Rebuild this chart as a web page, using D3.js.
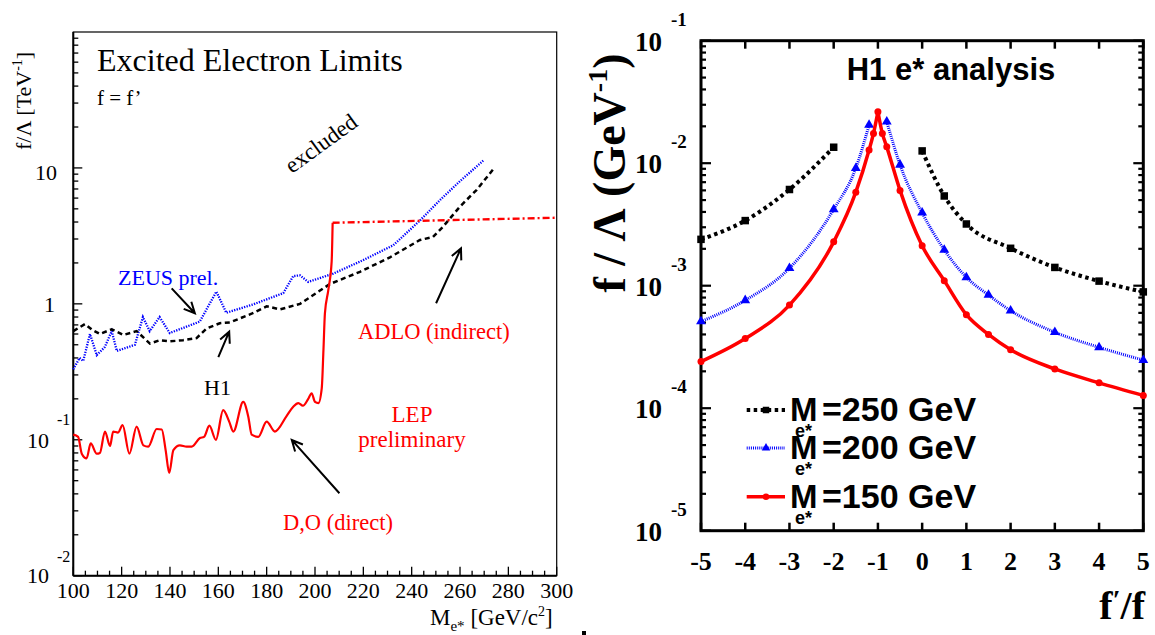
<!DOCTYPE html>
<html><head><meta charset="utf-8">
<script src="https://cdn.jsdelivr.net/npm/d3@7"></script>
<style>body{margin:0;background:#fff;overflow:hidden}</style>
</head><body>
<svg id="c" width="1155" height="635"></svg>
<script>
// ---------------- Left panel data (M_e* in GeV, f/Lambda in TeV^-1) ----------------
const h1Mass  = [100, 104.8, 108, 111, 115.9, 120.7, 126.2, 131.7, 135.7, 140, 145.4, 151, 155.2, 160.6, 164.8, 174, 180, 185.5, 193.8, 206.2, 218.6, 231, 243.4, 248.8, 253, 260, 266.9, 273.8];
const h1Limit = [0.63, 0.71, 0.64, 0.60, 0.65, 0.59, 0.63, 0.51, 0.54, 0.53, 0.54, 0.56, 0.66, 0.72, 0.73, 0.85, 0.96, 0.91, 1.0, 1.4, 1.72, 2.2, 2.95, 3.1, 3.7, 5.2, 6.9, 9.8];

const zeusMass  = [100, 102.6, 104.1, 106.9, 109.7, 113, 115.9, 118, 125.5, 128.8, 131.6, 135.7, 139.9, 152.3, 159.2, 163.3, 174.4, 186.9, 191, 193.8, 197.2, 207.6, 220, 232.4, 243.4, 251.7, 260, 269.6];
const zeusLimit = [0.33, 0.40, 0.38, 0.60, 0.42, 0.48, 0.63, 0.45, 0.50, 0.80, 0.63, 0.80, 0.61, 0.74, 1.23, 0.86, 0.99, 1.2, 1.6, 1.62, 1.45, 1.67, 2.1, 2.7, 4.1, 5.8, 8.0, 11.3];

const doMass  = [100, 102, 103.5, 105.5, 107.2, 109.7, 111, 113.1, 115.2, 116.5, 118.5, 120.4, 123.2, 126.2, 129, 131, 134.5, 136.6, 138.2, 139.7, 141.4, 144.1, 146.9, 149, 152.4, 154.1, 156.3, 159, 162, 164.5, 166.2, 170.3, 172.4, 173.8, 176.5, 180, 183.4, 188.3, 191, 193.1, 195, 197.2, 198.6, 200, 201.4, 202.8, 203.5, 204.1, 205.5, 206.9, 207.3];
const doLimit = [0.109, 0.105, 0.079, 0.073, 0.094, 0.079, 0.080, 0.115, 0.090, 0.115, 0.113, 0.128, 0.079, 0.125, 0.091, 0.089, 0.120, 0.119, 0.084, 0.057, 0.084, 0.091, 0.089, 0.089, 0.103, 0.105, 0.127, 0.100, 0.165, 0.136, 0.115, 0.19, 0.148, 0.109, 0.105, 0.136, 0.115, 0.150, 0.175, 0.186, 0.178, 0.20, 0.22, 0.19, 0.186, 0.24, 0.46, 0.85, 1.26, 2.06, 3.95];

const adloMass  = [207.3, 300];
const adloLimit = [3.95, 4.3];

const leftXTicks = [100, 120, 140, 160, 180, 200, 220, 240, 260, 280, 300];
const leftYDecades = [0.01, 0.1, 1, 10];

// ---------------- Right panel data (f'/f, f/Lambda in GeV^-1) ----------------
const ratio150 = [-5, -4, -3, -2, -1.5, -1.2, -1.1, -1, -0.9, -0.8, -0.5, 0, 0.5, 1, 1.5, 2, 3, 4, 5];
const limit150 = [2.4e-4, 3.7e-4, 6.95e-4, 2.28e-3, 5.8e-3, 1.28e-2, 1.75e-2, 2.63e-2, 1.75e-2, 1.36e-2, 6.0e-3, 2.12e-3, 1.1e-3, 5.8e-4, 4.0e-4, 3.0e-4, 2.09e-4, 1.61e-4, 1.27e-4];

const ratio200 = [-5, -4, -3, -2, -1.5, -1.2, null, -0.8, -0.5, 0, 0.5, 1, 1.5, 2, 3, 4, 5];
const limit200 = [5.1e-4, 7.6e-4, 1.39e-3, 4.2e-3, 9.1e-3, 2.05e-2, null, 2.18e-2, 9.7e-3, 3.94e-3, 1.96e-3, 1.17e-3, 8.4e-4, 6.25e-4, 4.17e-4, 3.14e-4, 2.47e-4];

const ratio250 = [-5, -4, -3, -2, null, 0, 0.5, 1, 2, 3, 4, 5];
const limit250 = [2.39e-3, 3.4e-3, 6.1e-3, 1.35e-2, null, 1.26e-2, 5.4e-3, 3.19e-3, 2.02e-3, 1.41e-3, 1.09e-3, 8.9e-4];

const rightXTicks = [-5, -4, -3, -2, -1, 0, 1, 2, 3, 4, 5];
const rightYDecades = [1e-5, 1e-4, 1e-3, 1e-2, 1e-1];
const legendMasses = ["250", "200", "150"];

// ---------------- drawing ----------------
const svg = d3.select("#c");
const serif = "'Liberation Serif','Times New Roman',serif";
const sans = "'Liberation Sans',Arial,Helvetica,sans-serif";
const RED = "#ff0000", BLUE = "#0000ff";

function txt(g, x, y, s, o = {}) {
  const t = g.append("text").attr("x", x).attr("y", y).text(s)
    .attr("font-family", o.ff || serif).attr("font-size", o.fs || 22)
    .attr("fill", o.fill || "#000").attr("text-anchor", o.anchor || "start");
  if (o.bold) t.attr("font-weight", "bold");
  if (o.rot !== undefined) t.attr("transform", `rotate(${o.rot},${x},${y})`);
  return t;
}

// ===== LEFT PANEL =====
const L = svg.append("g");
const xL = d3.scaleLinear().domain([100, 300]).range([73.3, 556.7]);
const yL = d3.scaleLog().domain([0.01, 100]).range([575.7, 32]);

// frame
L.append("rect").attr("x", xL(100)).attr("y", yL(100)).attr("width", xL(300) - xL(100)).attr("height", yL(0.01) - yL(100))
  .attr("fill", "none").attr("stroke", "#000").attr("stroke-width", 1.2);
L.append("line").attr("x1", xL(100)).attr("x2", xL(100)).attr("y1", yL(100)).attr("y2", yL(0.01)).attr("stroke", "#000").attr("stroke-width", 2);
L.append("line").attr("x1", xL(100)).attr("x2", xL(300)).attr("y1", yL(0.01)).attr("y2", yL(0.01)).attr("stroke", "#000").attr("stroke-width", 2);

// x ticks
d3.range(100, 301, 5).forEach(m => {
  const len = m % 20 === 0 ? 9 : 5;
  L.append("line").attr("x1", xL(m)).attr("x2", xL(m)).attr("y1", yL(0.01)).attr("y2", yL(0.01) - len).attr("stroke", "#000").attr("stroke-width", 1.3);
});
leftXTicks.forEach(m => txt(L, xL(m), 598, String(m), { anchor: "middle", fs: 22 }));

// y ticks
leftYDecades.forEach(d => {
  for (let k = 1; k <= 9; k++) {
    const v = d * k, len = k === 1 ? 9 : 5;
    L.append("line").attr("x1", xL(100)).attr("x2", xL(100) + len).attr("y1", yL(v)).attr("y2", yL(v)).attr("stroke", "#000").attr("stroke-width", 1.3);
  }
});
// y tick labels
txt(L, 57, yL(10) + 12, "10", { anchor: "end", fs: 22 });
txt(L, 55, yL(1) + 8, "1", { anchor: "end", fs: 22 });
txt(L, 49, yL(0.1) + 8, "10", { anchor: "end", fs: 22 });
txt(L, 57, yL(0.1) - 15, "-1", { fs: 16 });
txt(L, 49, yL(0.01) + 7, "10", { anchor: "end", fs: 22 });
txt(L, 57, yL(0.01) - 14, "-2", { fs: 16 });

// axis titles
{
  const t = L.append("text").attr("transform", "translate(31,150) rotate(-90)")
    .attr("font-family", serif).attr("font-size", 22);
  t.append("tspan").text("f/Λ [TeV");
  t.append("tspan").text("-1").attr("font-size", 14).attr("dy", -9);
  t.append("tspan").text("]").attr("dy", 9);
}
{
  const t = L.append("text").attr("x", 430).attr("y", 625).attr("font-family", serif).attr("font-size", 23);
  t.append("tspan").text("M");
  t.append("tspan").text("e*").attr("font-size", 15).attr("dy", 6);
  t.append("tspan").text(" [GeV/c").attr("dy", -6);
  t.append("tspan").text("2").attr("font-size", 14).attr("dy", -9);
  t.append("tspan").text("]").attr("dy", 9);
}
L.append("rect").attr("x", 582).attr("y", 631).attr("width", 4).attr("height", 4).attr("fill", "#000");

// curves
function drawL(xs, ys, color, width, dash, curve) {
  const pts = xs.map((x, i) => [xL(x), yL(ys[i])]);
  L.append("path").attr("d", d3.line().curve(curve || d3.curveLinear)(pts))
    .attr("fill", "none").attr("stroke", color).attr("stroke-width", width)
    .attr("stroke-dasharray", dash || null);
}
drawL(zeusMass, zeusLimit, BLUE, 2.3, "1.3,1.3");
drawL(h1Mass, h1Limit, "#000", 2.5, "5,3.5");
drawL(doMass, doLimit, RED, 2.2, null, d3.curveMonotoneX);
drawL(adloMass, adloLimit, RED, 2.4, "7,3,2,3");

// text labels
txt(L, 97, 71, "Excited Electron Limits", { fs: 32 });
txt(L, 97, 105, "f = f’", { fs: 21 });
txt(L, 292, 174, "excluded", { fs: 23, rot: -36 });
txt(L, 118, 285, "ZEUS prel.", { fs: 22, fill: BLUE });
txt(L, 204, 395, "H1", { fs: 22 });
txt(L, 358, 339, "ADLO (indirect)", { fs: 22.5, fill: RED });
txt(L, 412, 422, "LEP", { fs: 23, fill: RED, anchor: "middle" });
txt(L, 412, 447, "preliminary", { fs: 23, fill: RED, anchor: "middle" });
txt(L, 283, 530, "D,O (direct)", { fs: 22.5, fill: RED });

// annotation arrows (in data coordinates)
const arrows = [
  [[140.7, 1.30], [150.3, 0.853]],
  [[160.0, 0.405], [164.5, 0.624]],
  [[250.1, 1.01], [260.4, 2.56]],
  [[210.1, 0.0404], [190.4, 0.0997]]
];
arrows.forEach(([a, b]) => {
  const x1 = xL(a[0]), y1 = yL(a[1]), x2 = xL(b[0]), y2 = yL(b[1]);
  const ang = Math.atan2(y2 - y1, x2 - x1), h = 12, sp = 0.45;
  const p = d3.path();
  p.moveTo(x1, y1); p.lineTo(x2, y2);
  p.moveTo(x2 - h * Math.cos(ang - sp), y2 - h * Math.sin(ang - sp));
  p.lineTo(x2, y2);
  p.lineTo(x2 - h * Math.cos(ang + sp), y2 - h * Math.sin(ang + sp));
  L.append("path").attr("d", p.toString()).attr("fill", "none").attr("stroke", "#000").attr("stroke-width", 2);
});

// ===== RIGHT PANEL =====
const R = svg.append("g");
const xR = d3.scaleLinear().domain([-5, 5]).range([701, 1143.3]);
const yR = d3.scaleLog().domain([1e-5, 1e-1]).range([530.7, 40.7]);

// ticks
rightXTicks.forEach(v => {
  R.append("line").attr("x1", xR(v)).attr("x2", xR(v)).attr("y1", yR(1e-5)).attr("y2", yR(1e-5) - 8).attr("stroke", "#000").attr("stroke-width", 2.5);
  R.append("line").attr("x1", xR(v)).attr("x2", xR(v)).attr("y1", yR(1e-1)).attr("y2", yR(1e-1) + 8).attr("stroke", "#000").attr("stroke-width", 2.5);
  txt(R, xR(v), 570, String(v), { anchor: "middle", fs: 26, bold: true });
});
rightYDecades.forEach((d, i) => {
  const ks = i === rightYDecades.length - 1 ? [1] : d3.range(1, 10);
  ks.forEach(k => {
    const v = d * k, len = k === 1 ? 10 : 5;
    R.append("line").attr("x1", xR(-5)).attr("x2", xR(-5) + len).attr("y1", yR(v)).attr("y2", yR(v)).attr("stroke", "#000").attr("stroke-width", 2.2);
    R.append("line").attr("x1", xR(5)).attr("x2", xR(5) - len).attr("y1", yR(v)).attr("y2", yR(v)).attr("stroke", "#000").attr("stroke-width", 2.2);
  });
  const e = Math.round(Math.log10(d));
  txt(R, 662, yR(d) + 10, "10", { anchor: "end", fs: 27, bold: true });
  txt(R, 671, yR(d) - 15, String(e), { fs: 19, bold: true });
});
R.append("rect").attr("x", xR(-5)).attr("y", yR(1e-1)).attr("width", xR(5) - xR(-5)).attr("height", yR(1e-5) - yR(1e-1))
  .attr("fill", "none").attr("stroke", "#000").attr("stroke-width", 3);

// axis titles
{
  const t = R.append("text").attr("transform", "translate(625,173) rotate(-90)")
    .attr("font-family", serif).attr("font-size", 46).attr("font-weight", "bold").attr("text-anchor", "middle");
  t.append("tspan").text("f / Λ (GeV");
  t.append("tspan").text("-1").attr("font-size", 28).attr("dy", -18);
  t.append("tspan").text(")").attr("dy", 18);
}
{
  const t = R.append("text").attr("x", 1145).attr("y", 619).attr("font-family", serif).attr("font-size", 40)
    .attr("font-weight", "bold").attr("text-anchor", "end");
  t.append("tspan").text("f");
  t.append("tspan").text("′").attr("font-size", 28).attr("dy", -10);
  t.append("tspan").text("/f").attr("dy", 10);
}
txt(R, 951, 80, "H1 e* analysis", { ff: sans, fs: 31, bold: true, anchor: "middle" });

// curves
const styles = {
  "250": { color: "#000", width: 4, dash: "3.5,3.5", marker: "square" },
  "200": { color: BLUE, width: 3, dash: "1,1.1", marker: "triangle" },
  "150": { color: RED, width: 3.5, dash: null, marker: "circle" }
};
function segments(xs, ys) {
  const segs = []; let cur = [];
  xs.forEach((x, i) => {
    if (x === null || ys[i] === null) { if (cur.length) segs.push(cur); cur = []; }
    else cur.push([x, ys[i]]);
  });
  if (cur.length) segs.push(cur);
  // split at an interior peak to keep the cusp sharp
  const out = [];
  segs.forEach(s => {
    const im = d3.maxIndex(s, d => d[1]);
    if (im > 0 && im < s.length - 1) { out.push(s.slice(0, im + 1)); out.push(s.slice(im)); }
    else out.push(s);
  });
  return out;
}
function marker(g, x, y, type, color, size) {
  if (type === "square") g.append("rect").attr("x", x - size / 2).attr("y", y - size / 2).attr("width", size).attr("height", size).attr("fill", color);
  else if (type === "triangle") g.append("path").attr("d", d3.symbol(d3.symbolTriangle, size * size * 0.75)()).attr("transform", `translate(${x},${y})`).attr("fill", color);
  else g.append("circle").attr("cx", x).attr("cy", y).attr("r", size / 2).attr("fill", color);
}
function drawR(xs, ys, key) {
  const st = styles[key];
  segments(xs, ys).forEach(s => {
    R.append("path").attr("d", d3.line().x(d => xR(d[0])).y(d => yR(d[1])).curve(d3.curveMonotoneX)(s))
      .attr("fill", "none").attr("stroke", st.color).attr("stroke-width", st.width).attr("stroke-dasharray", st.dash);
  });
  xs.forEach((x, i) => { if (x !== null) marker(R, xR(x), yR(ys[i]), st.marker, st.color, key === "150" ? 7 : 7.5); });
}
drawR(ratio250, limit250, "250");
drawR(ratio200, limit200, "200");
drawR(ratio150, limit150, "150");

// legend
const legY = [410, 448, 496.7];
legendMasses.forEach((m, i) => {
  const st = styles[m], y = legY[i];
  R.append("line").attr("x1", 746.7).attr("x2", 785).attr("y1", y).attr("y2", y)
    .attr("stroke", st.color).attr("stroke-width", st.width).attr("stroke-dasharray", st.dash);
  marker(R, 766, y, st.marker, st.color, 6.5);
  txt(R, 790, y + 11, "M", { ff: sans, fs: 33, bold: true });
  txt(R, 795, y + 27, "e*", { ff: sans, fs: 18, bold: true });
  txt(R, 822, y + 11, "=" + m + " GeV", { ff: sans, fs: 34, bold: true });
});
</script>
</body></html>
